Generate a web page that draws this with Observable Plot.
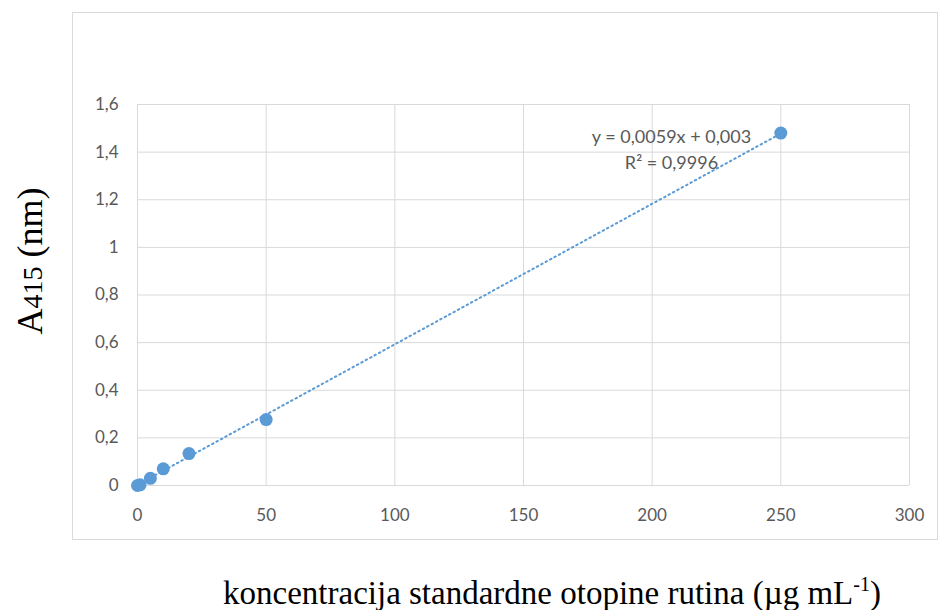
<!DOCTYPE html>
<html>
<head>
<meta charset="utf-8">
<script src="https://cdn.jsdelivr.net/npm/d3@7"></script>
<script src="https://cdn.jsdelivr.net/npm/@observablehq/plot@0.6"></script>
<style>
  html, body { margin: 0; padding: 0; background: #fff; }
  #wrap { position: relative; width: 940px; height: 610px; }
  #box { position: absolute; left: 72px; top: 12px; width: 866px; height: 528px; border: 1.5px solid #d9d9d9; box-sizing: border-box; }
  #chart { position: absolute; left: 0; top: 0; }
</style>
</head>
<body>
<div id="wrap"><div id="box"></div><div id="chart"></div></div>
<script>
// Data
const concentration = [0, 1, 5, 10, 20, 50, 250];
const absorbance = [0, 0.003, 0.03, 0.07, 0.134, 0.277, 1.48];
const slope = 0.0059;
const intercept = 0.003;
const trendRange = [0, 250];
const xTicks = [0, 50, 100, 150, 200, 250, 300];
const yTicks = [0, 0.2, 0.4, 0.6, 0.8, 1, 1.2, 1.4, 1.6];
const equationText = "y = 0,0059x + 0,003";
const r2Text = "R² = 0,9996";

const points = concentration.map((c, i) => ({x: c, y: absorbance[i]}));
const trend = trendRange.map(x => ({x, y: slope * x + intercept}));
const fmt = d => String(d).replace(".", ",");

const blue = "#5b9bd5";
const gray = "#595959";
const tickFont = "Lato, 'Open Sans', sans-serif";

const plot = Plot.plot({
  width: 940,
  height: 610,
  marginLeft: 137,
  marginRight: 31,
  marginTop: 104,
  marginBottom: 125,
  style: {background: "transparent", fontFamily: tickFont, fontSize: "17px", color: gray},
  x: {domain: [0, 300], ticks: xTicks, label: null},
  y: {domain: [0, 1.6], ticks: yTicks, label: null, tickFormat: fmt},
  marks: [
    Plot.gridX(xTicks, {stroke: "#d9d9d9", strokeOpacity: 1, strokeWidth: 1}),
    Plot.gridY(yTicks, {stroke: "#d9d9d9", strokeOpacity: 1, strokeWidth: 1}),
    Plot.axisX({ticks: xTicks, tickSize: 0, tickPadding: 23, fill: gray, fontSize: 17}),
    Plot.axisY({ticks: yTicks, tickSize: 0, tickPadding: 19, fill: gray, fontSize: 17, tickFormat: fmt}),
    Plot.line(trend, {x: "x", y: "y", stroke: blue, strokeWidth: 2, strokeDasharray: "1.5,3.5", strokeLinecap: "round"}),
    Plot.dot(points, {x: "x", y: "y", r: 6.5, fill: blue, stroke: null}),
    Plot.text([equationText], {x: 207.5, y: 1.462, text: d => d, fill: gray, fontSize: 18, textAnchor: "middle", style: {letterSpacing: "0.4px"}}),
    Plot.text([r2Text], {x: 207.5, y: 1.353, text: d => d, fill: gray, fontSize: 18, textAnchor: "middle", style: {letterSpacing: "0.4px"}})
  ]
});

const svg = d3.select(plot);
// y-axis label
const yl = svg.append("text")
  .attr("transform", "translate(42,261) rotate(-90)")
  .attr("text-anchor", "middle")
  .attr("font-family", "'Liberation Serif', 'DejaVu Serif', serif")
  .attr("font-size", 36)
  .attr("fill", "#000");
yl.append("tspan").text("A");
yl.append("tspan").attr("font-size", 28).text("415");
yl.append("tspan").text(" (nm)");
// x-axis label
const xl = svg.append("text")
  .attr("x", 552).attr("y", 604)
  .attr("text-anchor", "middle")
  .attr("font-family", "'Liberation Serif', 'DejaVu Serif', serif")
  .attr("font-size", 33)
  .attr("fill", "#000");
xl.append("tspan").text("koncentracija standardne otopine rutina (µg mL");
xl.append("tspan").attr("font-size", 20).attr("dy", -13).text("-1");
xl.append("tspan").attr("dy", 13).text(")");

document.getElementById("chart").appendChild(plot);
</script>
</body>
</html>
